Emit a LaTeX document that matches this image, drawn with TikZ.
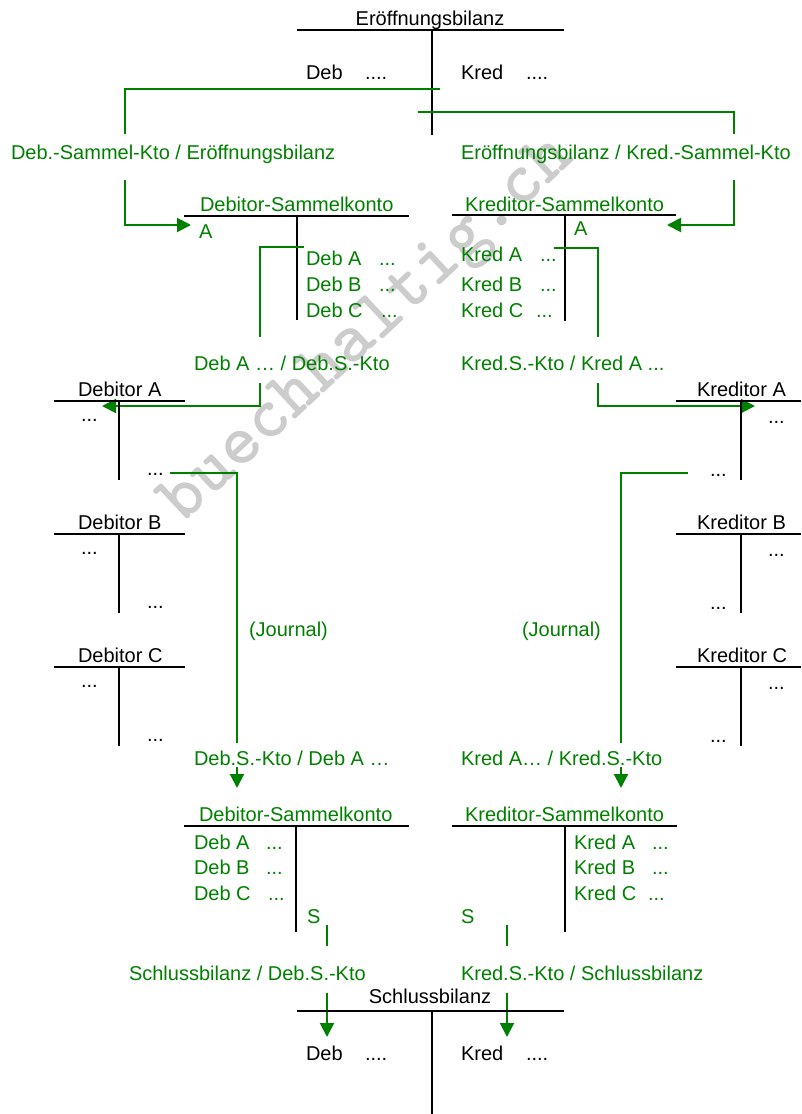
\documentclass[tikz,border=0pt]{standalone}
\usepackage{fontspec}
\setmainfont{Liberation Sans}
\usetikzlibrary{arrows.meta}
\definecolor{acgreen}{RGB}{0,128,0}
\definecolor{wmgray}{RGB}{204,204,204}
\begin{document}
\begin{tikzpicture}[x=1pt,y=-1pt,
  txt/.style={inner sep=0pt, outer sep=0pt, font=\fontsize{20}{24}\selectfont, anchor=base west},
  ctxt/.style={txt, anchor=base},
  gtxt/.style={txt, text=acgreen},
  tline/.style={draw=black, line width=1.3pt},
  gline/.style={draw=acgreen, line width=2pt},
  garrow/.style={gline, -{Triangle[length=14pt,width=14pt]}},
  wmark/.style={inner sep=0pt, anchor=base, text=wmgray, font=\ttfamily\bfseries\fontsize{73}{73}\selectfont, rotate=43}
]
\useasboundingbox (0,0) rectangle (801,1114);
% watermark
\node[wmark] (wm) at (379,342) {buechhaltig.ch};

% ---------- Eröffnungsbilanz ----------
\node[ctxt] (eb) at (430,25) {Eröffnungsbilanz};
\draw[tline] (297,30) -- (564,30);
\draw[tline] (432,30) -- (432,135);
\node[txt] (ebdeb) at (306,79) {Deb};
\node[txt] (ebdebd) at (365,79) {....};
\node[txt] (ebkred) at (461,79) {Kred};
\node[txt] (ebkredd) at (526,79) {....};

% labels
\node[gtxt] (l1) at (11,159) {Deb.-Sammel-Kto / Eröffnungsbilanz};
\node[gtxt] (l2) at (461,159) {Eröffnungsbilanz / Kred.-Sammel-Kto};

% connectors from Eröffnungsbilanz
\draw[gline] (440,89) -- (125,89) -- (125,134);
\draw[garrow] (125,180) -- (125,225) -- (191,225);
\draw[gline] (418,112) -- (734,112) -- (734,134);
\draw[garrow] (734,180) -- (734,225) -- (667,225);

% ---------- Debitor-Sammelkonto (top) ----------
\node[gtxt] (dst) at (200,211) {Debitor-Sammelkonto};
\draw[tline] (184,216) -- (409,216);
\draw[tline] (297,216) -- (297,320);
\node[gtxt] (dsta) at (199,238) {A};
\node[gtxt] (dsA) at (306,265) {Deb A};
\node[gtxt] (dsAd) at (379,265) {...};
\node[gtxt] (dsB) at (306,291) {Deb B};
\node[gtxt] (dsBd) at (379,291) {...};
\node[gtxt] (dsC) at (306,317) {Deb C};
\node[gtxt] (dsCd) at (381,317) {...};

% ---------- Kreditor-Sammelkonto (top) ----------
\node[gtxt] (kst) at (465,211) {Kreditor-Sammelkonto};
\draw[tline] (452,215) -- (676,215);
\draw[tline] (565,215) -- (565,321);
\node[gtxt] (ksta) at (574,235) {A};
\node[gtxt] (ksA) at (461,261) {Kred A};
\node[gtxt] (ksAd) at (540,261) {...};
\node[gtxt] (ksB) at (461,291) {Kred B};
\node[gtxt] (ksBd) at (540,291) {...};
\node[gtxt] (ksC) at (461,317) {Kred C};
\node[gtxt] (ksCd) at (536,317) {...};

% connectors to single accounts
\node[gtxt] (l3) at (194,370) {Deb A … / Deb.S.-Kto};
\node[gtxt] (l4) at (461,370) {Kred.S.-Kto / Kred A ...};
\draw[gline] (304,247) -- (260,247) -- (260,337);
\draw[garrow] (260,383) -- (260,406) -- (102,406);
\draw[gline] (554,248) -- (598,248) -- (598,337);
\draw[garrow] (598,383) -- (598,406) -- (755,406);

% ---------- Debitor A/B/C ----------
\foreach \n/\y in {A/0,B/133,C/266}{
  \node[txt] (deb\n) at (78,396+\y) {Debitor \n};
  \draw[tline] (54,401+\y) -- (185,401+\y);
  \draw[tline] (119,401+\y) -- (119,480+\y);
  \node[txt] (deb\n l) at (81,421+\y) {...};
  \node[txt] (deb\n r) at (147,475+\y) {...};
}
% ---------- Kreditor A/B/C ----------
\foreach \n/\y in {A/0,B/133,C/266}{
  \node[txt] (kred\n) at (697,396+\y) {Kreditor \n};
  \draw[tline] (676,401+\y) -- (801,401+\y);
  \draw[tline] (741,401+\y) -- (741,480+\y);
  \node[txt] (kred\n r) at (768,423+\y) {...};
  \node[txt] (kred\n l) at (710,476+\y) {...};
}

% journal connectors
\draw[gline] (170,473) -- (237,473) -- (237,743);
\draw[gline] (688,473) -- (621,473) -- (621,743);
\node[gtxt] (j1) at (249,636) {(Journal)};
\node[gtxt] (j2) at (522,636) {(Journal)};
\node[gtxt] (l5) at (194,765) {Deb.S.-Kto / Deb A …};
\node[gtxt] (l6) at (461,765) {Kred A… / Kred.S.-Kto};
\draw[garrow] (237,767) -- (237,788);
\draw[garrow] (621,767) -- (621,788);

% ---------- Debitor-Sammelkonto (bottom) ----------
\node[gtxt] (dsb) at (199,821) {Debitor-Sammelkonto};
\draw[tline] (184,826) -- (409,826);
\draw[tline] (296,826) -- (296,932);
\node[gtxt] (dbA) at (194,849) {Deb A};
\node[gtxt] (dbAd) at (266,849) {...};
\node[gtxt] (dbB) at (194,874) {Deb B};
\node[gtxt] (dbBd) at (266,874) {...};
\node[gtxt] (dbC) at (194,900) {Deb C};
\node[gtxt] (dbCd) at (268,900) {...};
\node[gtxt] (dbS) at (307,923) {S};

% ---------- Kreditor-Sammelkonto (bottom) ----------
\node[gtxt] (ksb) at (465,821) {Kreditor-Sammelkonto};
\draw[tline] (452,826) -- (677,826);
\draw[tline] (565,826) -- (565,932);
\node[gtxt] (kbA) at (574,849) {Kred A};
\node[gtxt] (kbAd) at (652,849) {...};
\node[gtxt] (kbB) at (574,874) {Kred B};
\node[gtxt] (kbBd) at (652,874) {...};
\node[gtxt] (kbC) at (574,900) {Kred C};
\node[gtxt] (kbCd) at (648,900) {...};
\node[gtxt] (kbS) at (461,923) {S};

% closing connectors
\draw[gline] (327,925) -- (327,946);
\draw[gline] (507,925) -- (507,946);
\node[gtxt] (l7) at (129,980) {Schlussbilanz / Deb.S.-Kto};
\node[gtxt] (l8) at (461,980) {Kred.S.-Kto / Schlussbilanz};
\draw[garrow] (327,993) -- (327,1037);
\draw[garrow] (507,993) -- (507,1037);

% ---------- Schlussbilanz ----------
\node[ctxt] (sb) at (430,1003) {Schlussbilanz};
\draw[tline] (297,1011) -- (564,1011);
\draw[tline] (432,1011) -- (432,1114);
\node[txt] (sbdeb) at (306,1060) {Deb};
\node[txt] (sbdebd) at (365,1060) {....};
\node[txt] (sbkred) at (461,1060) {Kred};
\node[txt] (sbkredd) at (526,1060) {....};
\end{tikzpicture}
\end{document}
